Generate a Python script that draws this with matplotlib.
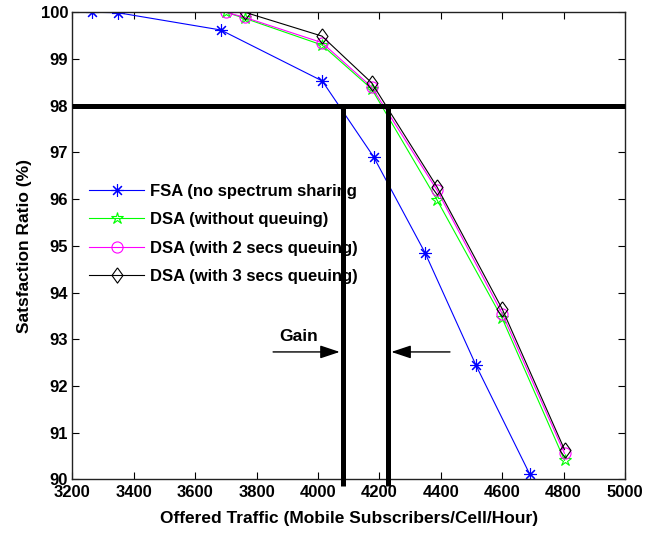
import matplotlib
matplotlib.use("Agg")
import matplotlib.pyplot as plt
from matplotlib.ticker import MultipleLocator

plt.rcParams['font.family'] = ['Liberation Sans', 'DejaVu Sans']
plt.rcParams['font.weight'] = 'bold'

# Data
fsa_x = [3265, 3349, 3684, 4014, 4181, 4349, 4515, 4690]
fsa_y = [100.0, 99.99, 99.62, 98.53, 96.91, 94.85, 92.44, 90.11]

dsa_x = [3700, 3762, 4013, 4175, 4388, 4600, 4803]
dsa_noq_y = [100.0, 99.87, 99.30, 98.36, 95.98, 93.45, 90.41]
dsa_2s_y = [100.0, 99.89, 99.35, 98.40, 96.19, 93.55, 90.56]

dsa3_x = [3762, 4013, 4175, 4388, 4600, 4803]
dsa_3s_y = [100.0, 99.49, 98.49, 96.26, 93.65, 90.64]

labels = ["FSA (no spectrum sharing", "DSA (without queuing)",
          "DSA (with 2 secs queuing)", "DSA (with 3 secs queuing)"]

threshold = 98.0
gain_left = 4083
gain_right = 4227
arrow_y = 92.73

fig = plt.figure(figsize=(6.47, 5.33), dpi=100)
ax = fig.add_axes([0.1117, 0.1004, 0.966 - 0.1117, 0.977 - 0.1004])

diamond = [(0, 1), (0.72, 0), (0, -1), (-0.72, 0), (0, 1)]

ax.plot(fsa_x, fsa_y, color=(0, 0, 1), lw=0.8, marker=(8, 2, 0), ms=9,
        mew=0.8, label=labels[0])
ax.plot(dsa_x, dsa_noq_y, color=(0, 1, 0), lw=0.8, marker='*', ms=9,
        mfc='none', mew=0.8, label=labels[1])
ax.plot(dsa_x, dsa_2s_y, color=(1, 0, 1), lw=0.8, marker='o', ms=8,
        mfc='none', mew=0.8, label=labels[2])
ax.plot(dsa3_x, dsa_3s_y, color='black', lw=0.8, marker=diamond, ms=11,
        mfc='none', mew=0.8, label=labels[3])

ax.set_xlim(3200, 5000)
ax.set_ylim(90, 100)
ax.xaxis.set_major_locator(MultipleLocator(200))
ax.yaxis.set_major_locator(MultipleLocator(1))
ax.tick_params(direction='in', top=True, right=True, length=5, width=0.8,
               labelsize=12, pad=2)
ax.tick_params(axis='x', pad=4)
ax.tick_params(axis='y', pad=3)
for s in ax.spines.values():
    s.set_linewidth(1.0)
    s.set_color('#222222')

ax.set_xlabel("Offered Traffic (Mobile Subscribers/Cell/Hour)", fontsize=12.5,
              fontweight='bold', labelpad=8)
ax.set_ylabel("Satsfaction Ratio (%)", fontsize=12.5, fontweight='bold',
              labelpad=6)

leg = ax.legend(loc='upper left', bbox_to_anchor=(0.019, 0.647), frameon=False,
                fontsize=12, handlelength=3.3, handletextpad=0.36,
                labelspacing=0.8, borderaxespad=0)

ax.plot([3200, 5000], [threshold, threshold], color='black', lw=3.6,
        solid_capstyle='butt', zorder=6, clip_on=False)
ax.plot([gain_left, gain_left], [threshold, 89.85], color='black', lw=3.6,
        solid_capstyle='butt', zorder=6, clip_on=False)
ax.plot([gain_right, gain_right], [threshold, 89.85], color='black', lw=3.6,
        solid_capstyle='butt', zorder=6, clip_on=False)

ap = dict(arrowstyle='-|>,head_length=1.2,head_width=0.4', color='black',
          lw=1.0, shrinkA=0, shrinkB=0)
ax.annotate('', xy=(gain_left - 12, arrow_y), xytext=(3854, arrow_y),
            arrowprops=ap, zorder=7)
ax.annotate('', xy=(gain_right + 12, arrow_y), xytext=(4430, arrow_y),
            arrowprops=ap, zorder=7)
ax.text(3873, 93.07, "Gain", fontsize=12.5, fontweight='bold', ha='left',
        va='center')

fig.savefig("out.png", dpi=100)
